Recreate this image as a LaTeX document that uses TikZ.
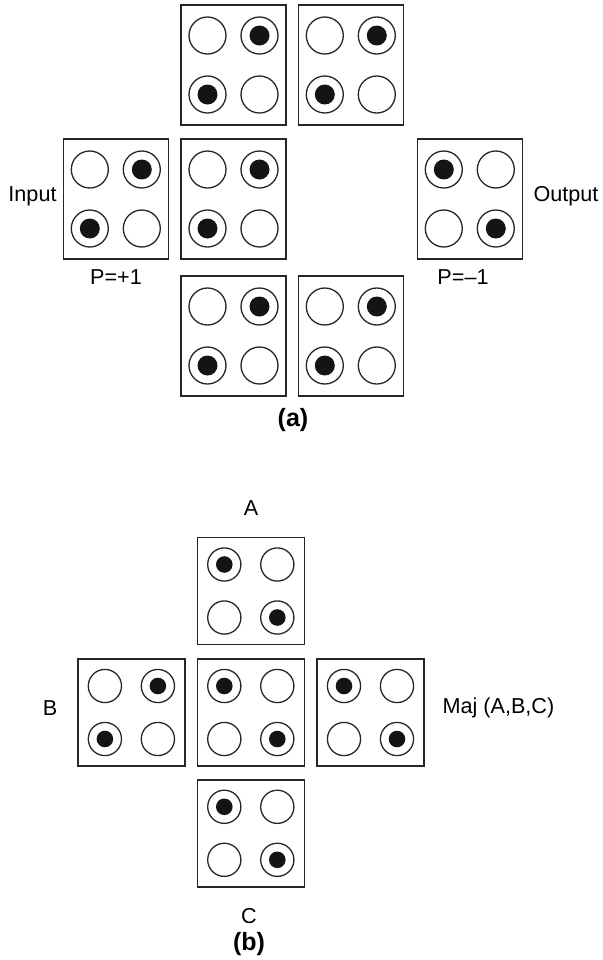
\documentclass[tikz,border=0pt]{standalone}
\usepackage{fontspec}
\setmainfont{Liberation Sans}
\usepackage{tikz}

\begin{document}
\begin{tikzpicture}[x=0.5pt,y=-0.5pt,
		cellbox/.style={draw=black!85,line width=0.8pt},
		hole/.style={draw=black!85,line width=0.65pt},
		dot/.style={fill=black!92},
		lbl/.style={font=\fontsize{10.8}{12}\selectfont,inner sep=0pt},
		captext/.style={font=\bfseries\fontsize{12.5}{14}\selectfont,inner sep=0pt}]
		\useasboundingbox (0,0) rectangle (603,960);
		% (a): cells 105 x 120, pattern 1 = dots top right / bottom left, 2 = top left / bottom right
		\foreach \cx/\cy/\pat in {233.5/65/1, 350.8/65/1, 115.8/199/1, 233.5/199/1, 469.8/199/2, 233.5/336/1, 350.8/336/1} {
			\draw[cellbox] (\cx-52.5,\cy-60) rectangle (\cx+52.5,\cy+60);
			\foreach \dx/\dy/\q in {-1/-1/2, 1/-1/1, -1/1/1, 1/1/2} {
				\draw[hole] (\cx+26*\dx,\cy+29.5*\dy) circle (18.5);
				\ifnum\q=\pat \fill[dot] (\cx+26*\dx,\cy+29.5*\dy) circle (10); \fi
			}
		}
		\node[lbl] (input) at (32.5,196) {Input};
		\node[lbl] (output) at (566,196) {Output};
		\node[lbl] (pplus) at (116,277) {P=+1};
		\node[lbl] (pminus) at (463,277) {P=–1};
		\node[captext] (capa) at (293,420) {(a)};
		% (b): cells 107 x 107
		\foreach \cx/\cy/\pat in {250.8/591/2, 131.4/712.5/1, 250.8/712.5/2, 370.5/712.5/2, 250.8/833.3/2} {
			\draw[cellbox] (\cx-53.5,\cy-53.5) rectangle (\cx+53.5,\cy+53.5);
			\foreach \dx/\dy/\q in {-1/-1/2, 1/-1/1, -1/1/1, 1/1/2} {
				\draw[hole] (\cx+26.5*\dx,\cy+26.5*\dy) circle (16.6);
				\ifnum\q=\pat \fill[dot] (\cx+26.5*\dx,\cy+26.5*\dy) circle (8.3); \fi
			}
		}
		\node[lbl] (la) at (251,508) {A};
		\node[lbl] (lb) at (50,708) {B};
		\node[lbl] (lmaj) at (498.5,708) {Maj (A,B,C)};
		\node[lbl] (lc) at (249,916) {C};
		\node[captext] (capb) at (249,944) {(b)};
	\end{tikzpicture}
\end{document}
